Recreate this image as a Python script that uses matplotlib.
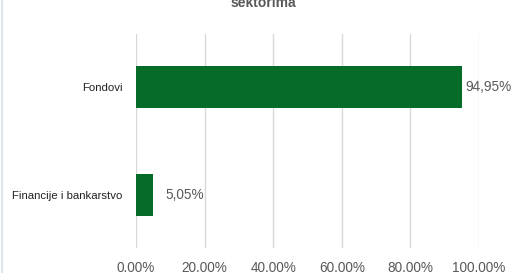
import matplotlib.pyplot as plt
from matplotlib.lines import Line2D

# podaci
kategorije = ["Financije i bankarstvo", "Fondovi"]
udjeli = [5.05, 94.95]
x_ticks = [0, 20, 40, 60, 80, 100]
x_tick_labels = ["0.00%", "20.00%", "40.00%", "60.00%", "80.00%", "100.00%"]

plt.rcParams['font.family'] = ['Liberation Sans', 'DejaVu Sans']

fig = plt.figure(figsize=(5.12, 2.73), dpi=100)
ax = fig.add_axes([136 / 512, 1 - 248 / 273, (479 - 136) / 512, (248 - 34) / 273])

ax.barh(range(len(kategorije)), udjeli, height=0.39, color="#046B28", zorder=3)

# kratka traka ima oznaku malo dalje od ruba
pomaci = [9, 3]
for i, v in enumerate(udjeli):
    ax.annotate(f"{v:.2f}%".replace(".", ","), (v, i), xytext=(pomaci[i], 0),
                textcoords="offset points", va="center", ha="left",
                fontsize=9.8, color="#595959")

ax.set_xlim(0, 100)
ax.set_ylim(-0.49, 1.49)
ax.set_xticks(x_ticks)
ax.set_xticklabels(x_tick_labels, fontsize=9.8, color="#595959")
ax.set_yticks(range(len(kategorije)))
ax.set_yticklabels(kategorije, fontsize=8.2, color="#222222")
ax.tick_params(length=0)
ax.tick_params(axis="x", pad=9.5)
ax.tick_params(axis="y", pad=9.5)

ax.grid(axis="x", color="#d9d9d9", linewidth=1, zorder=0)
for s in ax.spines.values():
    s.set_visible(False)
ax.axvline(0, color="#d6e2f0", linewidth=1.2, zorder=1)

fig.text(263 / 512, 1 - 7 / 273, "sektorima", ha="center", va="baseline",
         fontsize=10, fontweight="bold", color="#595959")

# rub okvira lijevo
fig.add_artist(Line2D([1.5 / 512, 1.5 / 512], [0, 1], color="#dbe5f1", linewidth=1.5))

fig.savefig("out.png", dpi=100)
